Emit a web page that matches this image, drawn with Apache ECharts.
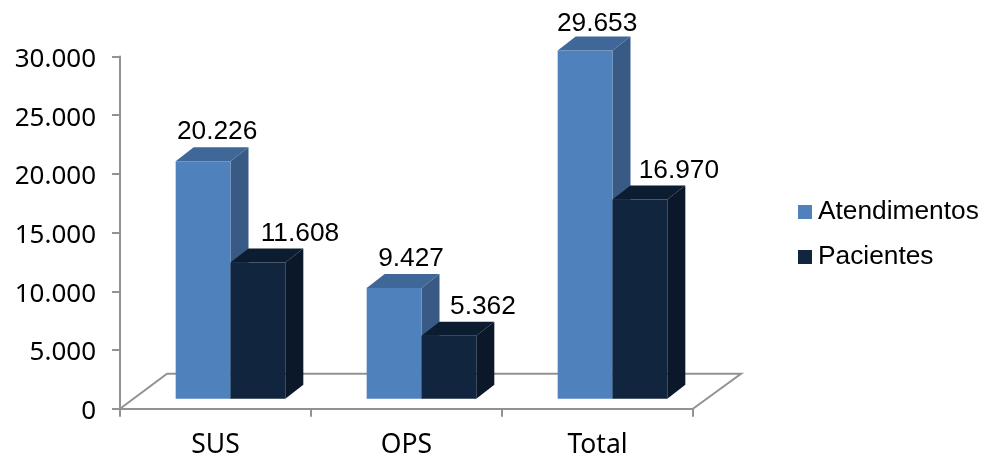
<!DOCTYPE html>
<html><head><meta charset="utf-8">
<style>html,body{margin:0;padding:0;background:#fff}#c{width:985px;height:457px}</style>
<script src="https://cdn.jsdelivr.net/npm/echarts@6/dist/echarts.min.js"></script>
</head><body><div id="c"></div>
<script>
const categories = ['SUS', 'OPS', 'Total'];
const atendimentos = [20226, 9427, 29653];
const pacientes = [11608, 5362, 16970];
const yTicks = { min: 0, max: 30000, interval: 5000 };
// nudges of the value labels relative to each bar centre and to the top of the bar
const labelNudgeA = [14, 17, 12];
const labelNudgeP = [42, 34, 39];
const labelRiseA = [16, 15, 13];
const labelRiseP = [15, 15, 15];

const fmt = v => String(v).replace(/\B(?=(\d{3})+$)/g, '.');
const GRAY = '#929292';
const DEPTH_X = 18, DEPTH_Y = 14, LIFT = 10, SHIFT = 15;
const BAR_RATIO = 0.287;

function barSeries(name, values, nudges, rises, front, side, top) {
  return {
    name, type: 'custom', coordinateSystem: 'cartesian2d', clip: false,
    itemStyle: { color: front },
    data: values.map((v, i) => [i, v]),
    encode: { x: 0, y: 1 },
    renderItem(params, api) {
      const i = api.value(0), v = api.value(1);
      const c = api.coord([i, v]), b = api.coord([i, 0]);
      const w = api.size([1, 0])[0] * BAR_RATIO;
      const offs = name === 'Atendimentos' ? -w : 0;
      const x0 = c[0] + SHIFT + offs, x1 = x0 + w;
      const yT = c[1] - LIFT, yB = b[1] - LIFT;
      const poly = (points, fill) => ({ type: 'polygon', shape: { points }, style: { fill } });
      return {
        type: 'group',
        children: [
          poly([[x1, yT], [x1 + DEPTH_X, yT - DEPTH_Y], [x1 + DEPTH_X, yB - DEPTH_Y], [x1, yB]], side),
          poly([[x0, yT], [x0 + DEPTH_X, yT - DEPTH_Y], [x1 + DEPTH_X, yT - DEPTH_Y], [x1, yT]], top),
          { type: 'rect', shape: { x: x0, y: yT, width: w, height: yB - yT }, style: { fill: front } },
          { type: 'text', z2: 10, style: {
              text: fmt(v), x: (x0 + x1) / 2 + nudges[i], y: yT - DEPTH_Y - rises[i],
              align: 'center', verticalAlign: 'middle',
              font: '26.3px "Liberation Sans", Arial, sans-serif', fill: '#000'
          } }
        ]
      };
    }
  };
}

const floorSeries = {
  name: 'floor', type: 'custom', coordinateSystem: 'cartesian2d', clip: false, silent: true,
  data: [[0, 0]], encode: { x: 0, y: 1 },
  renderItem(params) {
    const g = params.coordSys;
    const yb = g.y + g.height, xr = g.x + g.width;
    return { type: 'polyline',
      shape: { points: [[g.x, yb], [g.x + 47, yb - 35], [xr + 48, yb - 35], [xr, yb]] },
      style: { stroke: GRAY, lineWidth: 2, fill: null } };
  }
};

const chart = echarts.init(document.getElementById('c'), null, { renderer: 'canvas' });
chart.setOption({
  animation: false,
  backgroundColor: '#fff',
  grid: { left: 120, right: 292, top: 56.5, bottom: 48.3, containLabel: false, outerBoundsMode: 'none' },
  legend: {
    data: ['Atendimentos', 'Pacientes'], orient: 'vertical', left: 793, top: 194,
    icon: 'rect', itemWidth: 14, itemHeight: 14, itemGap: 19,
    textStyle: { fontFamily: '"Liberation Sans"', fontSize: 26.3, color: '#000', padding: [0, 0, 0, 1] }
  },
  xAxis: {
    type: 'category', data: categories,
    axisLine: { lineStyle: { color: GRAY, width: 2 } },
    axisTick: { show: true, length: 8, alignWithLabel: false, lineStyle: { color: GRAY, width: 2 } },
    axisLabel: { fontFamily: '"Noto Sans"', fontSize: 26.5, color: '#000', margin: 23 },
    splitLine: { show: false }
  },
  yAxis: {
    type: 'value', min: yTicks.min, max: yTicks.max, interval: yTicks.interval,
    axisLine: { show: true, lineStyle: { color: GRAY, width: 2 } },
    axisTick: { show: true, length: 8, lineStyle: { color: GRAY, width: 2 } },
    axisLabel: { fontFamily: '"Noto Sans"', fontSize: 26, color: '#000', margin: 24, verticalAlign: 'top', lineHeight: 26, padding: [-10, 0, 0, 0], formatter: fmt },
    splitLine: { show: false }
  },
  series: [
    floorSeries,
    barSeries('Atendimentos', atendimentos, labelNudgeA, labelRiseA, '#4F81BD', '#385A85', '#3F6797'),
    barSeries('Pacientes', pacientes, labelNudgeP, labelRiseP, '#12253F', '#0B1829', '#0C1C31')
  ]
});
</script></body></html>
